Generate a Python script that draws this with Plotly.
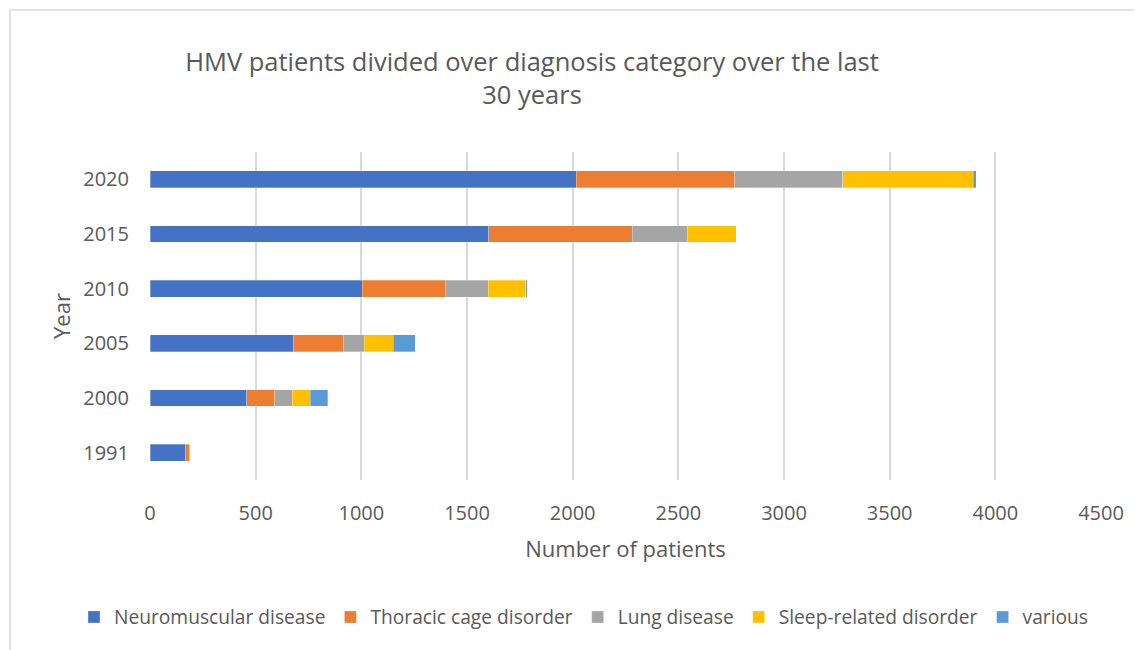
import plotly.graph_objects as go

years = ["1991", "2000", "2005", "2010", "2015", "2020"]
neuromuscular = [168, 457, 679, 1004, 1604, 2018]
thoracic = [20, 133, 236, 393, 677, 748]
lung = [3, 83, 98, 203, 261, 511]
sleep = [0, 85, 139, 177, 232, 618]
various = [0, 84, 102, 9, 0, 14]

series = [
    ("Neuromuscular disease", neuromuscular, "#4472C4"),
    ("Thoracic cage disorder", thoracic, "#ED7D31"),
    ("Lung disease", lung, "#A5A5A5"),
    ("Sleep-related disorder", sleep, "#FFC000"),
    ("various", various, "#5B9BD5"),
]

FONT = "Open Sans"
W, H = 1142, 650
L, R, T, B = 142, 49, 144, 178
PW, PH = W - L - R, H - T - B

fig = go.Figure()
for name, vals, col in series:
    fig.add_trace(go.Bar(
        y=years, x=vals, name=name, orientation="h",
        marker=dict(color=col, line=dict(color="rgba(255,255,255,0.6)", width=0.5)),
        width=0.31,
    ))

def px_x(vx):
    return (vx - 8 - L) / PW

def px_y(vy):
    return (H - B - (vy - 8)) / PH

fig.update_layout(
    width=W, height=H,
    barmode="stack",
    paper_bgcolor="white", plot_bgcolor="white",
    margin=dict(l=L, r=R, t=T, b=B),
    font=dict(family=FONT, color="#595959", size=19),
    title=dict(
        text="HMV patients divided over diagnosis category over the last<br>30 years",
        x=(532 - 8) / W, xref="container", xanchor="center",
        y=1 - (71 - 8) / H, yref="container", yanchor="middle",
        font=dict(family=FONT, size=25.5, color="#595959"),
    ),
    xaxis=dict(
        range=[0, 4500], dtick=500, tick0=0,
        showgrid=True, gridcolor="#D9D9D9", gridwidth=1.5,
        zeroline=False, showline=False,
        ticks="", ticklabelstandoff=19,
        tickfont=dict(size=20, color="#595959"),
        title=dict(text="Number of patients", font=dict(size=22, color="#595959"), standoff=16),
    ),
    yaxis=dict(
        type="category", categoryorder="array", categoryarray=years,
        showgrid=False, zeroline=False, showline=False, ticks="",
        ticklabelstandoff=20,
        tickfont=dict(size=20, color="#595959"),
        title=dict(text="Year", font=dict(size=22, color="#595959"), standoff=6),
    ),
    legend=dict(
        orientation="h", x=px_x(74), xanchor="left",
        y=px_y(617), yanchor="middle",
        font=dict(size=19.2, color="#595959"), traceorder="normal",
        itemwidth=30,
    ),
    shapes=[dict(
        type="rect", xref="paper", yref="paper",
        x0=px_x(10), x1=px_x(1200), y0=px_y(700), y1=px_y(10),
        line=dict(color="#D9D9D9", width=1.5), layer="below",
    )],
)

fig.write_html("out.html")
